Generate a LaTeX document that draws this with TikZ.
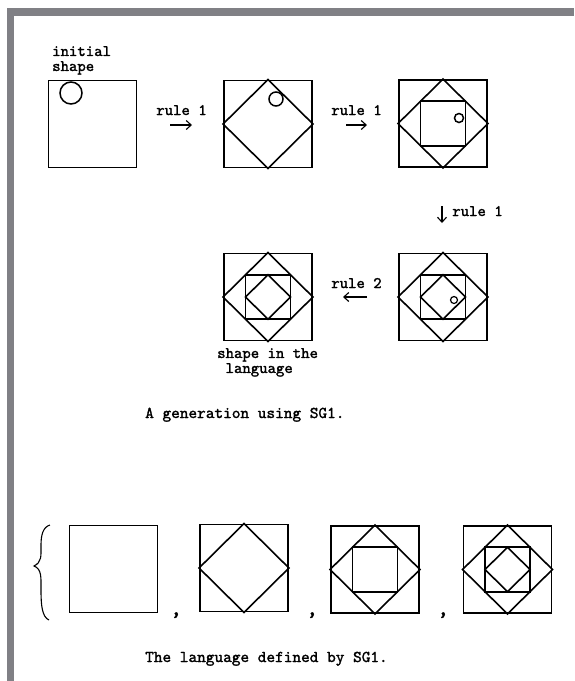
\documentclass[tikz,border=0pt]{standalone}
\usepackage{fontspec}
\newfontfamily\typewriter{lmmono10-regular.otf}[FakeBold=1.6]
\usetikzlibrary{arrows.meta,calc}
\definecolor{framegray}{RGB}{128,128,133}
\tikzset{
  sq/.style={draw, line width=1.9pt, minimum width=88pt, minimum height=87pt, inner sep=0pt},
  edgeline/.style={line width=1.6pt, line join=miter},
  lbl/.style={font=\fontsize{16}{15}\selectfont\typewriter, inner sep=0pt},
  captiontext/.style={font=\fontsize{16.5}{15}\selectfont\typewriter, inner sep=0pt},
  commamark/.style={font=\fontsize{22}{22}\selectfont\typewriter, inner sep=0pt},
  rulearrow/.style={line width=1.1pt, -{Straight Barb[length=5pt,width=9pt]}},
  marker/.style={draw, circle, line width=1.5pt, inner sep=0pt},
  bracestroke/.style={line width=1.1pt},
}
\newcommand\drawdiamondin[1]{\draw[edgeline] (#1.north) -- (#1.east) -- (#1.south) -- (#1.west) -- cycle;}
\newcommand\drawinnersq[1]{\draw[edgeline] ($(#1.center)!0.5!(#1.north west)$) rectangle ($(#1.center)!0.5!(#1.south east)$);}
\newcommand\drawinnerdiamond[1]{\draw[edgeline] ($(#1.center)!0.5!(#1.north)$) -- ($(#1.center)!0.5!(#1.east)$) -- ($(#1.center)!0.5!(#1.south)$) -- ($(#1.center)!0.5!(#1.west)$) -- cycle;}
\begin{document}
\begin{tikzpicture}[x=1pt,y=-1pt]
\useasboundingbox (0,0) rectangle (574,681);
% frame
\fill[framegray] (7,8) rectangle (574,16);
\fill[framegray] (7,8) rectangle (14,681);

% row 1
\node[sq] (s1) at (92.5,124) {};
\node[marker, minimum size=22pt] (c1) at (71,93) {};
\node[lbl, align=left, anchor=north west] (init) at (52,46) {initial\\shape};

\node[sq] (s2) at (268,124) {};
\drawdiamondin{s2}
\node[marker, minimum size=14pt] (c2) at (276,99) {};

\node[sq] (s3) at (443,123.5) {};
\drawdiamondin{s3}
\drawinnersq{s3}
\node[marker, minimum size=9pt] (c3) at (459,118) {};

\node[lbl, anchor=base] (r1) at (181.5,115) {rule 1};
\coordinate (a1s) at (170,125); \coordinate (a1e) at (192,125);
\draw[rulearrow] (a1s) -- (a1e);
\node[lbl, anchor=base] (r2) at (356.5,115) {rule 1};
\coordinate (a2s) at (346,125); \coordinate (a2e) at (367,125);
\draw[rulearrow] (a2s) -- (a2e);

% down arrow
\coordinate (a3s) at (442,206); \coordinate (a3e) at (442,223);
\draw[rulearrow] (a3s) -- (a3e);
\node[lbl, anchor=base] (r3) at (477.5,216) {rule 1};

% row 2
\node[sq] (s4) at (443,297) {};
\drawdiamondin{s4}
\drawinnersq{s4}
\drawinnerdiamond{s4}
\node[marker, minimum size=7pt, line width=1.2pt] (c4) at (454,300) {};

\node[sq] (s5) at (268,297) {};
\drawdiamondin{s5}
\drawinnersq{s5}
\drawinnerdiamond{s5}

\node[lbl, anchor=base] (r4) at (356.5,288) {rule 2};
\coordinate (a4s) at (367,297); \coordinate (a4e) at (343,297);
\draw[rulearrow] (a4s) -- (a4e);

\node[lbl, align=left, anchor=north west] (lang) at (217,348) {shape in the\\\phantom{x}language};

\node[captiontext, anchor=base west] (cap1) at (145,418) {A generation using SG1.};

% row 3
\draw[bracestroke] (50,525) .. controls (43,527) and (41,535) .. (41,545)
  .. controls (41,556) and (42,562) .. (34,566)
  .. controls (42,569) and (41,578) .. (41,590)
  .. controls (41,605) and (42,617) .. (49,620);

\node[sq] (la) at (113.5,569) {};
\node[commamark, anchor=base] (k1) at (176,615) {,};
\node[sq] (lb) at (244,568) {};
\drawdiamondin{lb}
\node[commamark, anchor=base] (k2) at (312,615) {,};
\node[sq] (lc) at (375,569.5) {};
\drawdiamondin{lc}
\drawinnersq{lc}
\node[commamark, anchor=base] (k3) at (443,615) {,};
\node[sq] (ld) at (507.5,569.5) {};
\drawdiamondin{ld}
\drawinnersq{ld}
\drawinnerdiamond{ld}

\node[captiontext, anchor=base west] (cap2) at (145,662) {The language defined by SG1.};
\end{tikzpicture}
\end{document}
